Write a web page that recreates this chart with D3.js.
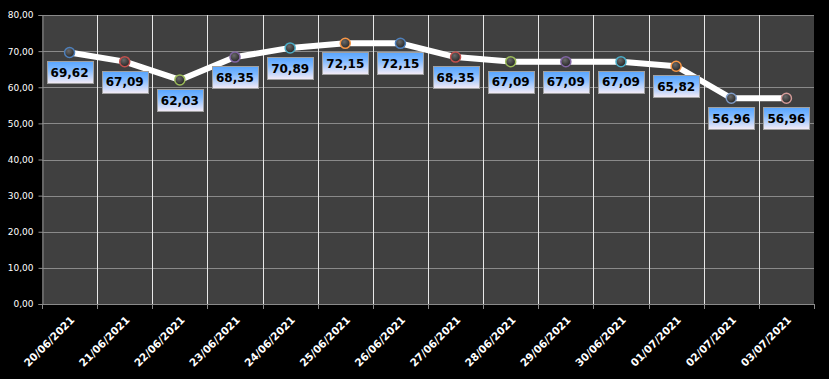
<!DOCTYPE html>
<html><head><meta charset="utf-8">
<script src="https://cdn.jsdelivr.net/npm/d3@7"></script>
<style>html,body{margin:0;padding:0;background:#000;}svg{display:block;}</style>
</head><body>
<svg id="chart" width="829" height="379"></svg>
<script>
const categories = ["20/06/2021","21/06/2021","22/06/2021","23/06/2021","24/06/2021","25/06/2021","26/06/2021","27/06/2021","28/06/2021","29/06/2021","30/06/2021","01/07/2021","02/07/2021","03/07/2021"];
const values = [69.62,67.09,62.03,68.35,70.89,72.15,72.15,68.35,67.09,67.09,67.09,65.82,56.96,56.96];
const markerColors = ["#4f81bd","#c0504d","#9bbb59","#8064a2","#4bacc6","#f79646","#4f81bd","#c0504d","#9bbb59","#8064a2","#4bacc6","#f79646","#7f9cc8","#d39a98"];
const yTicks = [0,10,20,30,40,50,60,70,80];

const svg = d3.select("#chart");
const W = 829, H = 379;
const m = {left:42, right:15, top:15, bottom:75};
const x = d3.scaleBand().domain(categories).range([m.left, W - m.right]).padding(0);
const y = d3.scaleLinear().domain([0,80]).range([H - m.bottom, m.top]);
const fmt = v => d3.format(".2f")(v).replace(".", ",");

svg.append("rect").attr("width",W).attr("height",H).attr("fill","#000");
svg.append("rect").attr("x",m.left).attr("y",m.top).attr("width",W-m.left-m.right).attr("height",y(0)-m.top).attr("fill","#404040");

const defs = svg.append("defs");
const lg = defs.append("linearGradient").attr("id","lblg").attr("x1",0).attr("y1",0).attr("x2",0).attr("y2",1);
lg.append("stop").attr("offset","0%").attr("stop-color","#57a5ff");
lg.append("stop").attr("offset","35%").attr("stop-color","#7db8ff");
lg.append("stop").attr("offset","100%").attr("stop-color","#f6ecf6");
const rg = defs.append("radialGradient").attr("id","ball").attr("cx","40%").attr("cy","35%").attr("r","65%");
rg.append("stop").attr("offset","0%").attr("stop-color","#6a6a6a");
rg.append("stop").attr("offset","100%").attr("stop-color","#262626");

// horizontal gridlines
svg.append("g").selectAll("line").data(yTicks).join("line")
  .attr("x1",m.left).attr("x2",W-m.right).attr("y1",d=>Math.round(y(d))+0.5).attr("y2",d=>Math.round(y(d))+0.5)
  .attr("stroke","#8a8a8a").attr("stroke-width",1);
// vertical gridlines at category boundaries
svg.append("g").selectAll("line").data(categories.slice(1)).join("line")
  .attr("x1",d=>Math.round(x(d))+0.5).attr("x2",d=>Math.round(x(d))+0.5).attr("y1",m.top).attr("y2",y(0))
  .attr("stroke","#e8e8e8").attr("stroke-width",1);

// y axis
const yAxis = d3.axisLeft(y).tickValues(yTicks).tickFormat(fmt).tickSize(4).tickPadding(5);
const gy = svg.append("g").attr("transform",`translate(${m.left+0.5},0)`).call(yAxis);
gy.select(".domain").attr("stroke","#8a8a8a");
gy.selectAll(".tick line").attr("stroke","#8a8a8a");
gy.selectAll(".tick text").attr("fill","#fff").attr("font-family","DejaVu Sans").attr("font-size","9px");

// x axis ticks at boundaries
const gx = svg.append("g");
gx.append("line").attr("x1",m.left).attr("x2",W-m.right).attr("y1",Math.round(y(0))+0.5).attr("y2",Math.round(y(0))+0.5).attr("stroke","#8a8a8a");
const bounds = categories.map(c=>x(c)).concat([W-m.right]);
gx.selectAll("line.t").data(bounds).join("line").attr("class","t")
  .attr("x1",d=>Math.round(d)+0.5).attr("x2",d=>Math.round(d)+0.5).attr("y1",y(0)).attr("y2",y(0)+5).attr("stroke","#8a8a8a");
gx.selectAll("text").data(categories).join("text")
  .attr("transform",d=>`translate(${x(d)+x.bandwidth()/2+3},${y(0)+14}) rotate(-45)`)
  .attr("text-anchor","end").attr("dy","0.35em")
  .attr("fill","#fff").attr("font-family","DejaVu Sans").attr("font-weight","bold").attr("font-size","10.5px")
  .text(d=>d);

// line
const pts = categories.map((c,i)=>({c, v:values[i], i}));
const cx = d => x(d.c) + x.bandwidth()/2;
svg.append("path").datum(pts)
  .attr("d", d3.line().x(cx).y(d=>y(d.v)))
  .attr("fill","none").attr("stroke","#fff").attr("stroke-width",6).attr("stroke-linejoin","round");

// markers
svg.append("g").selectAll("circle").data(pts).join("circle")
  .attr("cx",cx).attr("cy",d=>y(d.v)).attr("r",5)
  .attr("fill","url(#ball)").attr("stroke",d=>markerColors[d.i]).attr("stroke-width",1.5);

// labels
const lbl = svg.append("g").selectAll("g").data(pts).join("g");
const rects = lbl.append("rect");
const texts = lbl.append("text")
  .attr("x",cx).attr("y",d=>y(d.v)+9+11.5).attr("dy","0.36em").attr("text-anchor","middle")
  .attr("font-family","DejaVu Sans").attr("font-weight","bold").attr("font-size","12px").attr("fill","#000")
  .text(d=>fmt(d.v));
texts.each(function(d){ d.tw = this.getComputedTextLength(); });
rects.attr("x",d=>Math.round(cx(d)-d.tw/2-4)+0.5).attr("y",d=>Math.round(y(d.v)+9)+0.5)
  .attr("width",d=>Math.round(d.tw+8)).attr("height",22)
  .attr("fill","url(#lblg)").attr("stroke","#a0a0a0").attr("stroke-width",1);
</script>
</body></html>
